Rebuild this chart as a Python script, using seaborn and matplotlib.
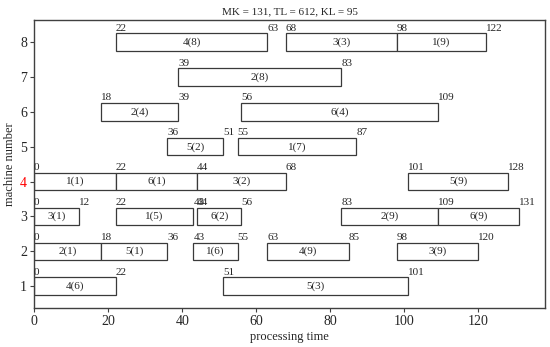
import matplotlib
matplotlib.use("Agg")
import matplotlib.pyplot as plt
import seaborn as sns
import pandas as pd

machines = [8, 8, 8, 7, 6, 6, 5, 5, 4, 4, 4, 4, 3, 3, 3, 3, 3, 2, 2, 2, 2, 2, 1, 1]
starts = [22, 68, 98, 39, 18, 56, 36, 55, 0, 22, 44, 101, 0, 22, 44, 83, 109, 0, 18, 43, 63, 98, 0, 51]
ends = [63, 98, 122, 83, 39, 109, 51, 87, 22, 44, 68, 128, 12, 43, 56, 109, 131, 18, 36, 55, 85, 120, 22, 101]
ops = ["4(8)", "3(3)", "1(9)", "2(8)", "2(4)", "6(4)", "5(2)", "1(7)", "1(1)", "6(1)", "3(2)", "5(9)",
       "3(1)", "1(5)", "6(2)", "2(9)", "6(9)", "2(1)", "5(1)", "1(6)", "4(9)", "3(9)", "4(6)", "5(3)"]
title = "MK = 131, TL = 612, KL = 95"

df = pd.DataFrame({"machine": machines, "start": starts, "end": ends, "op": ops})
df["dur"] = df["end"] - df["start"]

sns.set_theme(style="ticks")
plt.rcParams["font.family"] = ["Liberation Serif", "DejaVu Serif"]

fig = plt.figure(figsize=(5.5, 3.47), dpi=100)
ax = fig.add_axes([0.062, 0.112, 0.929, 0.830])

h = 0.5
ax.barh(df["machine"], df["dur"], left=df["start"], height=h, color="white",
        edgecolor="#3a3a3a", linewidth=0.9)
drawn = set()
for _, r in df.iterrows():
    ax.text((r.start + r.end) / 2, r.machine, r.op, ha="center", va="center", fontsize=8)
    for t in (r.start, r.end):
        if (r.machine, t) in drawn:
            continue
        drawn.add((r.machine, t))
        ax.text(t, r.machine + h / 2 + 0.02, str(t), ha="left", va="bottom", fontsize=8)

ax.set_xlim(0, 138)
ax.set_ylim(0.37, 8.63)
ax.set_xticks([0, 20, 40, 60, 80, 100, 120])
ax.set_yticks(range(1, 9))
ax.tick_params(axis="both", labelsize=10, length=3, width=0.8, color="#404040", pad=2)
for lab in ax.get_yticklabels():
    if lab.get_text() == "4":
        lab.set_color("red")
for s in ax.spines.values():
    s.set_color("#404040")
    s.set_linewidth(1.0)
ax.set_xlabel("processing time", fontsize=9, labelpad=2)
ax.set_ylabel("machine number", fontsize=9, labelpad=3)
ax.set_title(title, fontsize=8, pad=4)

fig.savefig("out.png", dpi=100)
